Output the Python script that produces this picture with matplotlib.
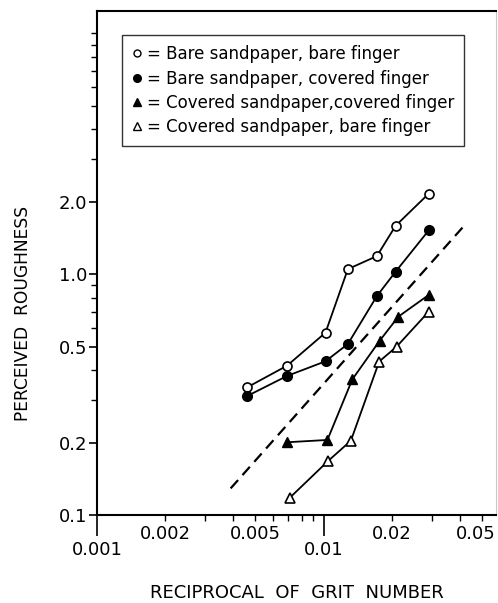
import numpy as np
import matplotlib
matplotlib.use('Agg')
import matplotlib.pyplot as plt
import matplotlib.transforms as mtransforms
from matplotlib.lines import Line2D

# Dados
x_grit = [0.0046, 0.0069, 0.0102, 0.0128, 0.0172, 0.0208, 0.0291]

bare_bare = [0.339, 0.417, 0.572, 1.05, 1.19, 1.59, 2.16]
bare_cov = [0.312, 0.378, 0.435, 0.513, 0.812, 1.025, 1.52]

x_cov_cov = [0.0069, 0.0104, 0.0134, 0.0177, 0.0214, 0.0291]
cov_cov = [0.2005, 0.205, 0.366, 0.530, 0.667, 0.820]

x_cov_bare = [0.0071, 0.0105, 0.0132, 0.0176, 0.0210, 0.0291]
cov_bare = [0.118, 0.168, 0.2035, 0.434, 0.500, 0.699]

# linha tracejada (referencia)
x_ref = [0.00389, 0.0414]
y_ref = [0.129, 1.577]

labels = ["= Bare sandpaper, bare finger",
          "= Bare sandpaper, covered finger",
          "= Covered sandpaper,covered finger",
          "= Covered sandpaper, bare finger"]

x_major = [0.001, 0.01]
x_major_lbl = ["0.001", "0.01"]
x_minor = [0.002, 0.003, 0.004, 0.005, 0.006, 0.007, 0.008, 0.009, 0.02, 0.03, 0.04, 0.05]
x_minor_lbl = ["0.002", "", "", "0.005", "", "", "", "", "0.02", "", "", "0.05"]
y_major = [0.1, 0.2, 0.5, 1.0, 2.0]
y_major_lbl = ["0.1", "0.2", "0.5", "1.0", "2.0"]
y_minor = [0.3, 0.4, 0.6, 0.7, 0.8, 0.9, 3, 4, 5, 6, 7, 8, 9, 10]

fig = plt.figure(figsize=(4.98, 6.03), dpi=100)
ax = fig.add_axes([97/498, 88/603, 399/498, 504/603])

lw = 1.3
ax.plot(x_grit, bare_bare, '-o', color='black', mfc='white', mec='black', ms=6.5, lw=lw, mew=1.2, zorder=3)
ax.plot(x_grit, bare_cov, '-o', color='black', mfc='black', ms=7, lw=lw, zorder=3)
ax.plot(x_cov_cov, cov_cov, '-^', color='black', mfc='black', ms=7, lw=lw, zorder=3)
ax.plot(x_cov_bare, cov_bare, '-^', color='black', mfc='white', mec='black', ms=7, lw=lw, mew=1.2, zorder=3)
ax.plot(x_ref, y_ref, '--', color='black', lw=1.6, dashes=(5, 3))

ax.set_xscale('log')
ax.set_yscale('log')
ax.set_xlim(0.001, 0.0577)
ax.set_ylim(0.1, 12.4)

ax.set_xticks(x_major)
ax.set_xticklabels(x_major_lbl)
ax.set_xticks(x_minor, minor=True)
ax.set_xticklabels(x_minor_lbl, minor=True)
ax.set_yticks(y_major)
ax.set_yticklabels(y_major_lbl)
ax.set_yticks(y_minor, minor=True)
ax.set_yticklabels([], minor=True)

ax.tick_params(axis='x', which='major', direction='out', length=15, width=1.2, pad=4, labelsize=13)
ax.tick_params(axis='x', which='minor', direction='out', length=4, width=1, pad=3, labelsize=13)
ax.tick_params(axis='y', which='major', direction='out', length=6, width=1.2, pad=1, labelsize=13)
ax.tick_params(axis='y', which='minor', direction='out', length=4, width=1)

# o rotulo 0.05 fica colado na borda; puxa um pouco para a esquerda
shift = mtransforms.ScaledTranslation(-6/100, 0, fig.dpi_scale_trans)
lbl = ax.get_xticklabels(minor=True)[-1]
lbl.set_transform(lbl.get_transform() + shift)

for s in ['left', 'bottom', 'top']:
    ax.spines[s].set_linewidth(1.5)
ax.spines['right'].set_linewidth(0.8)
ax.spines['right'].set_color('#c8c8c8')

ax.set_xlabel("RECIPROCAL  OF  GRIT  NUMBER", fontsize=13, labelpad=18)
ax.set_ylabel("PERCEIVED  ROUGHNESS", fontsize=12.3)
ax.yaxis.set_label_coords(-0.163, 0.399)

handles = [
    Line2D([], [], ls='none', marker='o', mfc='white', mec='black', ms=5, mew=1),
    Line2D([], [], ls='none', marker='o', mfc='black', mec='black', ms=5.5),
    Line2D([], [], ls='none', marker='^', mfc='black', mec='black', ms=5.5),
    Line2D([], [], ls='none', marker='^', mfc='white', mec='black', ms=5.5, mew=1),
]
leg = ax.legend(handles, labels, loc='upper left', bbox_to_anchor=(0.062, 0.952),
                fontsize=12, frameon=True, fancybox=False, edgecolor='black',
                handlelength=0.6, handletextpad=0.3, labelspacing=0.38,
                borderpad=0.6, borderaxespad=0)
leg.get_frame().set_linewidth(1.0)

plt.savefig('out.png', dpi=100)
